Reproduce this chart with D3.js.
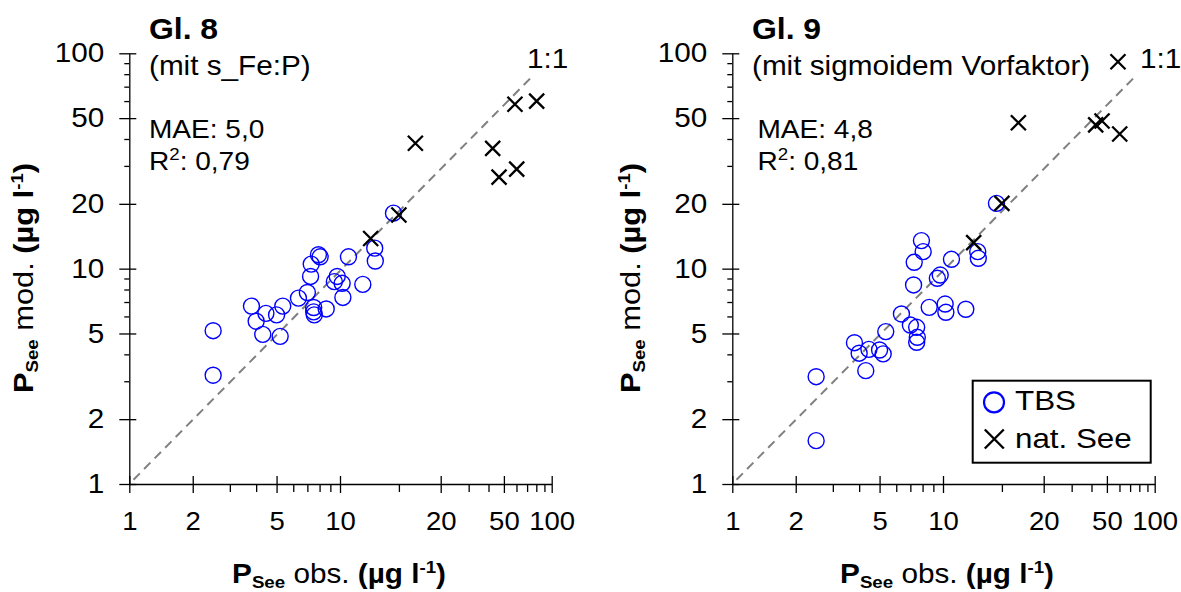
<!DOCTYPE html>
<html>
<head>
<meta charset="utf-8">
<script src="https://cdn.jsdelivr.net/npm/d3@7"></script>
<style>
  body { margin: 0; background: #fff; }
  text { font-family: "Liberation Sans", Arial, sans-serif; fill: #000; }
</style>
</head>
<body>
<svg id="chart" width="1181" height="592"></svg>
<script>
// observed P (same lakes in both panels)
const obsTBS = [2.5, 2.5, 3.8, 4.0, 4.3, 4.45, 5.0, 5.2, 5.35, 6.35, 7.0, 7.25, 7.3, 7.5, 7.5, 7.55,
  7.9, 8.05, 8.6, 9.4, 9.7, 10.15, 10.2, 10.6, 11.7, 12.7, 12.75, 14.45];
const modTBS8 = [5.15, 3.2, 6.7, 5.7, 4.95, 6.2, 6.1, 4.85, 6.7, 7.3, 7.75, 9.2, 10.5, 6.6, 6.3, 6.1,
  11.6, 11.35, 6.5, 8.7, 9.2, 8.55, 7.35, 11.35, 8.45, 12.45, 10.85, 18.1];
const modTBS9 = [3.15, 1.59, 4.53, 4.05, 3.36, 4.22, 4.19, 4.02, 5.1, 6.16, 5.47, 8.4, 10.7, 5.34, 4.55, 4.8,
  13.5, 12.0, 6.61, 9.02, 9.34, 6.85, 6.27, 11.05, 6.48, 12.0, 11.17, 20.1];
const obsSee = [12.35, 15.0, 16.8, 42.5, 46.6, 58.7, 60.2, 80.4];
const modSee8 = [13.8, 17.75, 38.2, 36.2, 26.6, 58.0, 29.0, 60.0];
const modSee9 = [13.2, 20.1, 47.6, 46.5, 48.5, 91.4, 42.2, null]; // last one off the chart

const majorTicks = [1, 2, 5, 10, 20, 50, 100];
const minorX = [3, 4, 6, 7, 8, 9, 15, 30, 40, 60, 70, 80, 90];
const minorY = [3, 4, 6, 7, 8, 9, 30, 40, 60, 70, 80, 90];
const oneToOne = [[1, 1], [74, 77]];

const panels = [
  { name: 'Gl. 8', sub: '(mit s_Fe:P)', mae: '5,0', r2: '0,79', tbs: modTBS8, see: modSee8,
    off: 0, statsDx: 0, oneX: 527, yTitleX: 33, xTitleX: 339, legend: false },
  { name: 'Gl. 9', sub: '(mit sigmoidem Vorfaktor)', mae: '4,8', r2: '0,81', tbs: modTBS9, see: modSee9,
    off: 603, statsDx: 5.5, oneX: 1140, yTitleX: 640, xTitleX: 947, legend: true }
];

const SX = 1.1; // the reference text is a bit wider than Arial
const svg = d3.select('#chart');

function addText(g, x, y, parts, opts = {}) {
  const t = g.append('text')
    .attr('transform', `translate(${x},${y})${opts.rotate ? ' rotate(-90)' : ''} scale(${SX},1)`)
    .attr('text-anchor', opts.anchor || 'start')
    .attr('font-size', opts.size || 26);
  parts.forEach(p => {
    t.append('tspan')
      .attr('dy', p.dy || 0)
      .attr('font-size', p.size || null)
      .attr('font-weight', p.bold ? 'bold' : null)
      .text(p.t);
  });
  return t;
}

const unitTitle = word => [
  { t: 'P', bold: true },
  { t: 'See', bold: true, size: 17, dy: 5 },
  { t: ` ${word} `, dy: -5 },
  { t: '(µg l', bold: true },
  { t: '-1', bold: true, size: 17, dy: -10 },
  { t: ')', bold: true, dy: 10 }
];

function stretchLabels(axisG, size) {
  axisG.attr('font-size', size).attr('stroke-width', 1.3);
  axisG.selectAll('.tick text').each(function () {
    const el = d3.select(this);
    const x0 = +el.attr('x') || 0;
    el.attr('x', x0 / SX).attr('transform', `scale(${SX},1)`);
  });
}

const crossPath = h => `M${-h},${-h}L${h},${h}M${h},${-h}L${-h},${h}`;

panels.forEach(p => {
  const g = svg.append('g');
  const x = d3.scaleLog()
    .domain([1, 10, 20, 100])
    .range([129.3, 340, 440.7, 551.7].map(v => v + p.off));
  const y = d3.scaleLog().domain([1, 100]).range([484, 53.3]);
  const x0 = x(1), y0 = y(1);

  // minor ticks
  g.append('g').attr('transform', `translate(0,${y0})`)
    .call(d3.axisBottom(x).tickValues(minorX).tickSize(8).tickFormat('').tickSizeOuter(0))
    .attr('stroke-width', 1.3)
    .call(a => a.select('.domain').remove());
  g.append('g').attr('transform', `translate(${x0},0)`)
    .call(d3.axisLeft(y).tickValues(minorY).tickSize(5).tickFormat('').tickSizeOuter(0))
    .attr('stroke-width', 1.3)
    .call(a => a.select('.domain').remove());

  // major ticks + labels
  const xa = g.append('g').attr('transform', `translate(0,${y0})`)
    .call(d3.axisBottom(x).tickValues(majorTicks).tickSize(9).tickPadding(19).tickSizeOuter(0).tickFormat(d3.format('d')));
  xa.selectAll('.tick line').attr('y1', -8);
  stretchLabels(xa, 25);

  const ya = g.append('g').attr('transform', `translate(${x0},0)`)
    .call(d3.axisLeft(y).tickValues(majorTicks).tickSize(10).tickPadding(15).tickSizeOuter(0).tickFormat(d3.format('d')));
  ya.selectAll('.tick line').attr('x1', 7);
  stretchLabels(ya, 27);

  // 1:1 line
  g.append('path')
    .attr('d', d3.line().x(d => x(d[0])).y(d => y(d[1]))(oneToOne))
    .attr('fill', 'none')
    .attr('stroke', '#808080')
    .attr('stroke-width', 2)
    .attr('stroke-dasharray', '9,6')
    .attr('stroke-dashoffset', 9);

  // TBS circles
  g.append('g').selectAll('circle')
    .data(obsTBS.map((o, i) => [o, p.tbs[i]]))
    .join('circle')
    .attr('cx', d => x(d[0]))
    .attr('cy', d => y(d[1]))
    .attr('r', 8)
    .attr('fill', 'none')
    .attr('stroke', '#0000ff')
    .attr('stroke-width', 1.4);

  // natural lakes
  g.append('g').selectAll('path')
    .data(obsSee.map((o, i) => [o, p.see[i]]).filter(d => d[1] != null))
    .join('path')
    .attr('transform', d => `translate(${x(d[0])},${y(d[1])})`)
    .attr('d', crossPath(7.5))
    .attr('stroke', '#000')
    .attr('stroke-width', 2.3);

  // texts
  const tx = 149 + p.off;
  addText(g, tx, 39, [{ t: p.name, bold: true }], { size: 29 });
  addText(g, tx, 75, [{ t: p.sub }], { size: 27 });
  addText(g, tx + p.statsDx, 138, [{ t: 'MAE: ' + p.mae }], { size: 25.5 });
  addText(g, tx + p.statsDx, 170, [{ t: 'R' }, { t: '2', size: 17, dy: -10 }, { t: ': ' + p.r2, dy: 10 }], { size: 25.5 });
  addText(g, p.oneX, 68, [{ t: '1:1' }], { size: 27 });

  addText(g, p.xTitleX, 583, unitTitle('obs.'), { anchor: 'middle', size: 27 });
  addText(g, p.yTitleX, 278, unitTitle('mod.'), { anchor: 'middle', rotate: true, size: 28 });

  if (p.legend) {
    const lg = g.append('g');
    lg.append('rect')
      .attr('x', 972.7).attr('y', 380.7).attr('width', 178).attr('height', 82)
      .attr('fill', '#fff').attr('stroke', '#000').attr('stroke-width', 2);
    lg.append('circle').attr('cx', 994).attr('cy', 402.3).attr('r', 10)
      .attr('fill', 'none').attr('stroke', '#0000ff').attr('stroke-width', 2.2);
    lg.append('path').attr('transform', 'translate(994.3,439)').attr('d', crossPath(9.5))
      .attr('stroke', '#000').attr('stroke-width', 2.4);
    addText(lg, 1015, 410, [{ t: 'TBS' }], { size: 28.5 });
    addText(lg, 1015, 448, [{ t: 'nat. See' }], { size: 28.5 });
  }
});
</script>
</body>
</html>
